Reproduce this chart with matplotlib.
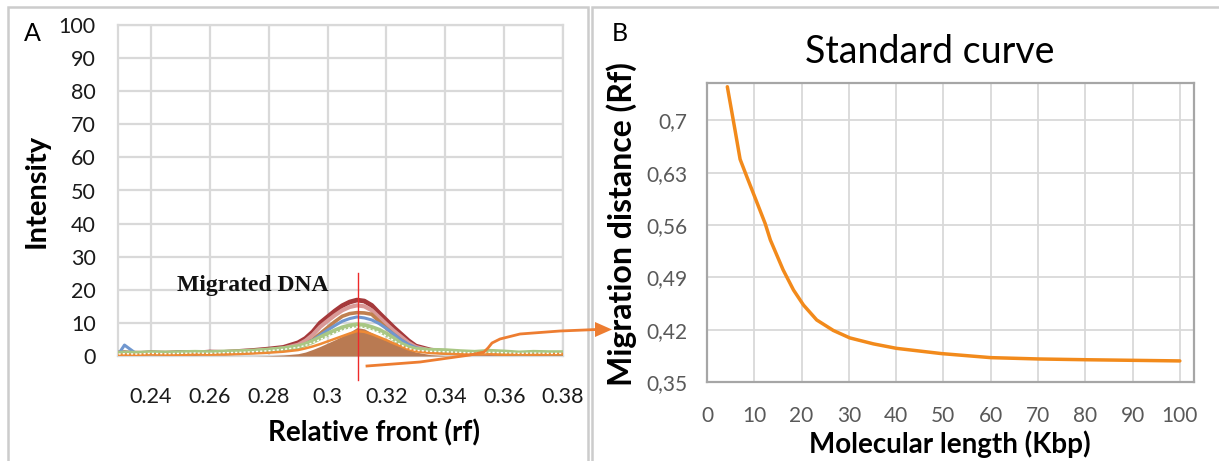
import matplotlib
matplotlib.use("Agg")
import matplotlib.pyplot as plt
from matplotlib import font_manager
from matplotlib.lines import Line2D
from matplotlib.patches import Polygon, Rectangle

# ---- panel A: densitometry profiles (relative front vs intensity) ----
rf = [0.229, 0.231, 0.235, 0.24, 0.245, 0.25, 0.255, 0.26, 0.265, 0.27,
      0.275, 0.28, 0.285, 0.29, 0.2925, 0.295, 0.2975, 0.30, 0.3025, 0.305,
      0.3075, 0.31, 0.3125, 0.315, 0.3175, 0.32, 0.3225, 0.325, 0.3275, 0.33,
      0.335, 0.34, 0.345, 0.35, 0.355, 0.36, 0.365, 0.37, 0.375, 0.38]

dark_red = [0.9, 1.0, 0.7, 1.0, 0.8, 1.1, 0.9, 1.2, 1.1, 1.4,
            1.7, 2.1, 2.6, 4.0, 5.3, 7.3, 10.0, 11.8, 13.6, 15.2,
            16.3, 16.9, 16.6, 15.3, 13.0, 10.8, 8.6, 6.6, 4.6, 3.0,
            1.8, 1.3, 1.1, 0.9, 0.8, 1.0, 0.7, 0.9, 0.8, 0.8]
pink = [0.8, 0.9, 1.0, 0.8, 1.0, 0.9, 1.1, 1.0, 1.2, 1.3,
        1.5, 1.8, 2.3, 3.4, 4.6, 6.4, 8.8, 10.6, 12.3, 13.8,
        14.8, 15.3, 15.0, 13.8, 11.7, 9.6, 7.6, 5.8, 4.0, 2.7,
        1.6, 1.2, 1.0, 0.8, 0.9, 0.8, 0.9, 0.7, 0.8, 0.9]
brown = [0.5, 0.6, 0.5, 0.7, 0.6, 0.7, 0.6, 0.8, 0.7, 0.9,
         1.1, 1.4, 1.8, 2.6, 3.5, 4.9, 6.8, 8.6, 10.4, 12.0,
         12.8, 13.1, 13.0, 12.6, 10.5, 8.4, 6.5, 4.8, 3.3, 2.2,
         1.3, 0.9, 0.7, 0.6, 0.7, 0.5, 0.6, 0.5, 0.6, 0.5]
blue = [0.6, 3.3, 0.7, 1.0, 0.8, 1.2, 0.9, 1.1, 1.0, 1.3,
        1.5, 1.9, 2.0, 2.8, 3.6, 4.8, 6.3, 7.8, 9.2, 10.5,
        11.3, 11.8, 11.5, 10.9, 9.8, 8.3, 6.6, 4.9, 3.5, 2.5,
        1.6, 1.2, 1.0, 0.9, 1.1, 0.8, 1.0, 0.9, 1.0, 0.8]
green = [0.8, 0.9, 0.8, 1.0, 0.9, 1.0, 1.1, 1.0, 1.2, 1.3,
         1.5, 1.8, 2.2, 2.8, 3.5, 4.4, 5.5, 6.6, 7.6, 8.5,
         9.1, 9.4, 9.2, 8.6, 7.8, 6.6, 5.2, 3.6, 2.6, 2.0,
         1.7, 1.6, 1.3, 1.1, 1.4, 1.2, 0.9, 1.1, 1.0, 1.0]
orange = [0.3, 0.4, 0.3, 0.5, 0.4, 0.3, 0.5, 0.4, 0.5, 0.6,
          0.8, 1.0, 1.3, 1.8, 2.3, 2.9, 3.6, 4.4, 5.2, 6.0,
          6.8, 7.5, 7.3, 6.6, 5.7, 4.8, 3.8, 2.9, 2.0, 1.4,
          0.9, 0.7, 0.6, 0.5, 0.6, 0.4, 0.5, 0.4, 0.5, 0.6]
brown_area = [0, 0, 0, 0, 0, 0, 0, 0, 0, 0,
              0, 0.1, 0.3, 0.7, 1.2, 2.0, 2.9, 3.9, 4.9, 6.0,
              7.2, 8.6, 8.2, 7.0, 5.9, 4.9, 3.9, 3.0, 2.0, 1.2,
              0.4, 0.1, 0, 0, 0, 0, 0, 0, 0, 0]
white = [0.6, 0.7, 0.6, 0.8, 0.7, 0.8, 0.9, 0.8, 1.0, 1.1,
         1.3, 1.6, 2.0, 2.6, 3.2, 4.0, 5.0, 6.0, 7.0, 7.9,
         8.5, 8.8, 8.6, 8.0, 7.2, 6.0, 4.7, 3.3, 2.3, 1.7,
         1.4, 1.3, 1.1, 0.9, 1.1, 1.0, 0.8, 0.9, 0.8, 0.8]

rf_ticks = [0.24, 0.26, 0.28, 0.3, 0.32, 0.34, 0.36, 0.38]
intensity_ticks = [0, 10, 20, 30, 40, 50, 60, 70, 80, 90, 100]
migrated_rf = 0.3105

# ---- panel B: standard curve ----
kbp = [4.3, 5.9, 7.0, 8.4, 10.2, 12.3, 13.4, 16.1, 18.3, 20.4, 23.2,
       26.7, 30.2, 35.2, 40.1, 49.6, 60.0, 70.2, 80, 90, 100]
rf_std = [0.745, 0.688, 0.648, 0.625, 0.596, 0.562, 0.540, 0.500, 0.473,
          0.453, 0.433, 0.419, 0.409, 0.401, 0.395, 0.388, 0.3826, 0.3808,
          0.3798, 0.3790, 0.3782]
kbp_ticks = [0, 10, 20, 30, 40, 50, 60, 70, 80, 90, 100]
rf_std_ticks = [0.35, 0.42, 0.49, 0.56, 0.63, 0.70]
rf_std_labels = ["0,35", "0,42", "0,49", "0,56", "0,63", "0,7"]


def has_font(name):
    try:
        font_manager.findfont(font_manager.FontProperties(family=name),
                              fallback_to_default=False)
        return True
    except ValueError:
        return False


SANS = "Lato" if has_font("Lato") else "DejaVu Sans"
NARROW = "Liberation Sans Narrow" if has_font("Liberation Sans Narrow") else SANS
SERIF = "Liberation Serif" if has_font("Liberation Serif") else "DejaVu Serif"
plt.rcParams["font.family"] = [SANS, "DejaVu Sans"]

W, H = 1219, 461
fig = plt.figure(figsize=(W / 100, H / 100), dpi=100)


def fx(px):
    return px / W


def fy(py):
    return 1 - py / H


GRID = "#d9d9d9"

# panel frames
fig.add_artist(Rectangle((fx(8), fy(480)), fx(588) - fx(8), fy(7) - fy(480),
                         transform=fig.transFigure, fill=False, ec="#cccccc", lw=1.8))
fig.add_artist(Rectangle((fx(592), fy(480)), fx(1240) - fx(592), fy(7) - fy(480),
                         transform=fig.transFigure, fill=False, ec="#cccccc", lw=1.8))

# ---------------- panel A ----------------
axA = fig.add_axes([fx(118), fy(356), fx(563) - fx(118), (356 - 25) / H])
axA.set_xlim(0.2288, 0.38)
axA.set_ylim(0, 100)
axA.set_xticks(rf_ticks, labels=["%g" % t for t in rf_ticks])
axA.set_yticks(intensity_ticks)
axA.grid(True, color=GRID, lw=1.6)
axA.set_axisbelow(True)
for s in axA.spines.values():
    s.set_color(GRID)
    s.set_linewidth(1.6)
axA.tick_params(length=0, labelsize=15.5, labelcolor="#1a1a1a")
axA.tick_params(axis="x", pad=22)
axA.tick_params(axis="y", pad=16)

axA.plot(rf, dark_red, color="#a5393b", lw=3.4, zorder=3)
axA.plot(rf, pink, color="#d99a98", lw=3.0, zorder=3)
axA.plot(rf, brown, color="#c0804f", lw=2.6, zorder=3)
axA.plot(rf, blue, color="#7097cf", lw=2.2, zorder=3)
axA.fill_between(rf, 0, brown_area, color="#b97a52", lw=0, zorder=4)
axA.plot(rf, green, color="#a9c784", lw=3.6, zorder=5)
axA.plot(rf, orange, color="#ee8a35", lw=1.8, zorder=6)
axA.plot(rf, white, color="white", lw=1.0, ls=(0, (1.5, 1.5)), zorder=6)

axA.plot([migrated_rf, migrated_rf], [25, -7.3], color="#ee2a2a", lw=1.0,
         zorder=7, clip_on=False)
axA.text(0.2747, 21.4, "Migrated DNA", family=SERIF, fontweight="bold",
         fontsize=17, ha="center", va="center", color="#111111", zorder=8)

fig.text(fx(37), fy(191), "Intensity", rotation=90, ha="center", va="center",
         fontsize=21, fontweight="bold")
fig.text(fx(374), fy(433), "Relative front (rf)", ha="center", va="center",
         fontsize=20, fontweight="bold")
fig.text(fx(32), fy(33), "A", ha="center", va="center", fontsize=18)

# ---------------- panel B ----------------
axB = fig.add_axes([fx(707), fy(382), fx(1194) - fx(707), (382 - 83) / H])
axB.set_xlim(0, 103)
axB.set_ylim(0.35, 0.75)
axB.set_xticks(kbp_ticks, labels=[str(t) for t in kbp_ticks],
               fontfamily=NARROW, fontsize=15, color="#595959")
axB.set_yticks(rf_std_ticks, labels=rf_std_labels,
               fontfamily=NARROW, fontsize=15, color="#595959")
axB.grid(True, color=GRID, lw=1.3)
axB.set_axisbelow(True)
for s in axB.spines.values():
    s.set_color("#a6a6a6")
    s.set_linewidth(1.6)
axB.tick_params(length=0)
axB.tick_params(axis="x", pad=17)
axB.tick_params(axis="y", pad=14)
axB.plot(kbp, rf_std, color="#f28a1b", lw=2.5, solid_capstyle="round",
         solid_joinstyle="round")

fig.text(fx(930), fy(52), "Standard curve", ha="center", va="center", fontsize=27)
fig.text(fx(622), fy(224), "Migration distance (Rf)", rotation=90,
         ha="center", va="center", fontsize=23, fontweight="bold")
fig.text(fx(950), fy(444), "Molecular length (Kbp)", ha="center", va="center",
         fontsize=20, fontweight="bold")
fig.text(fx(620), fy(33), "B", ha="center", va="center", fontsize=18)

# connector arrow from the migrated band to the standard curve
path = [(367, 366), (420, 362), (470, 355), (484, 352), (488, 348), (492, 343),
        (500, 339), (520, 334), (560, 331), (597, 329.5)]
fig.add_artist(Line2D([fx(p[0]) for p in path], [fy(p[1]) for p in path],
                      transform=fig.transFigure, color="#ed7d31", lw=2.0,
                      solid_joinstyle="round"))
fig.add_artist(Polygon([(fx(595), fy(322)), (fx(612), fy(329.5)), (fx(595), fy(337))],
                       closed=True, transform=fig.transFigure, color="#ed7d31", lw=0))

fig.savefig("out.png", dpi=100)
